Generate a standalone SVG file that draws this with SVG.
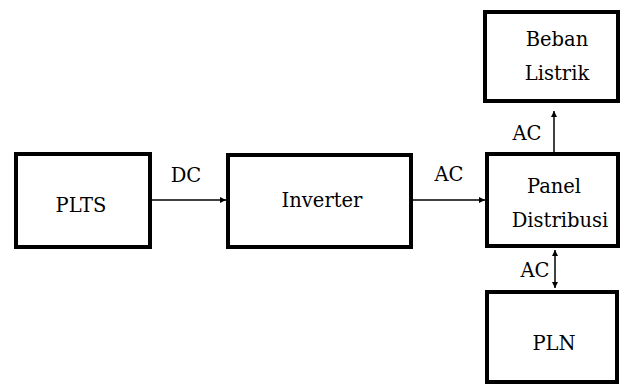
<svg xmlns="http://www.w3.org/2000/svg" width="621" height="385" viewBox="0 0 621 385">
<style>
.box{fill:#fff;stroke:#000;stroke-width:4}
.t{font-family:"DejaVu Serif","Liberation Serif",serif;font-size:19.5px;fill:#000;text-anchor:middle}
.c{stroke:#000;stroke-width:1.5;fill:none}
</style>
<defs>
<marker id="ah" viewBox="0 0 10 10" refX="10" refY="5" markerWidth="6" markerHeight="6" orient="auto-start-reverse" markerUnits="userSpaceOnUse">
<path d="M0,0 L10,5 L0,10 z" fill="#000"/>
</marker>
</defs>
<rect width="621" height="385" fill="#fff"/>
<g id="connectors">
<line class="c" x1="152" y1="200" x2="226" y2="200" marker-end="url(#ah)"/>
<line class="c" x1="413" y1="200" x2="485" y2="200" marker-end="url(#ah)"/>
<line class="c" x1="554" y1="152" x2="554" y2="111" marker-end="url(#ah)"/>
<line class="c" x1="555" y1="250" x2="555" y2="288" marker-start="url(#ah)" marker-end="url(#ah)"/>
<text class="t" x="186" y="182">DC</text>
<text class="t" x="449" y="181">AC</text>
<text class="t" x="527" y="140">AC</text>
<text class="t" x="535" y="277">AC</text>
</g>
<g id="plts">
<rect class="box" x="16" y="154" width="134" height="93"/>
<text class="t" x="81" y="212">PLTS</text>
</g>
<g id="inverter">
<rect class="box" x="228" y="155" width="183" height="92"/>
<text class="t" x="322" y="207">Inverter</text>
</g>
<g id="beban">
<rect class="box" x="485" y="12" width="133" height="89"/>
<text class="t" x="557" y="46">Beban</text>
<text class="t" x="557" y="80">Listrik</text>
</g>
<g id="panel">
<rect class="box" x="487" y="154" width="131" height="92"/>
<text class="t" x="554" y="193">Panel</text>
<text class="t" x="560" y="227">Distribusi</text>
</g>
<g id="pln">
<rect class="box" x="487" y="292" width="130" height="90"/>
<text class="t" x="554" y="350">PLN</text>
</g>
</svg>
